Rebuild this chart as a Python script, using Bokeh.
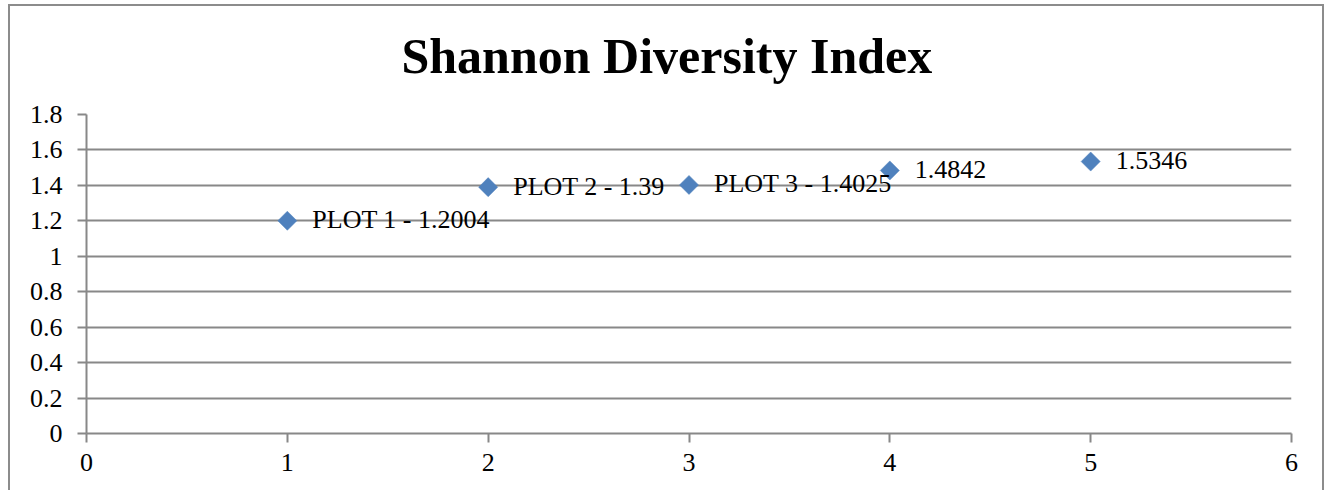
import numpy as np
from bokeh.plotting import figure
from bokeh.models import Range1d, FixedTicker, ColumnDataSource, Title
from bokeh.core.properties import value
from bokeh.embed import file_html
from bokeh.resources import INLINE

# ---- data ----
plots = [1, 2, 3, 4, 5]
shannon = [1.2004, 1.39, 1.4025, 1.4842, 1.5346]
point_labels = ["PLOT 1 - 1.2004", "PLOT 2 - 1.39", "PLOT 3 - 1.4025", "1.4842", "1.5346"]
x_ticks = [0, 1, 2, 3, 4, 5, 6]
x_tick_labels = ["0", "1", "2", "3", "4", "5", "6"]
y_ticks = [0, 0.2, 0.4, 0.6, 0.8, 1.0, 1.2, 1.4, 1.6, 1.8]
y_tick_labels = ["0", "0.2", "0.4", "0.6", "0.8", "1", "1.2", "1.4", "1.6", "1.8"]
title_text = "Shannon Diversity Index"

GRAY = "#888888"
SERIF = "Liberation Serif"

src = ColumnDataSource(dict(x=plots, y=shannon, label=point_labels))

p = figure(width=1316, height=486, output_backend="svg", toolbar_location=None,
           x_range=Range1d(0, 6), y_range=Range1d(0, 1.8),
           min_border_left=76, min_border_right=35, min_border_top=108, min_border_bottom=59)

p.styles = {"border-left": "2px solid #8c8c8c", "border-right": "2px solid #8c8c8c",
            "border-top": "2px solid #8c8c8c", "margin-left": "8px", "margin-top": "4px"}

# small blank spacer between the title and the plot area
spacer = Title(text=" ", text_font_size="6px", standoff=1, text_color="white")
p.add_layout(spacer, "above")

main_title = Title(text=title_text, align="left", offset=315, vertical_align="top",
                   standoff=40, text_font=SERIF, text_font_style="bold",
                   text_font_size="50px", text_color="black")
p.add_layout(main_title, "above")

p.outline_line_color = None
p.background_fill_color = "white"
p.border_fill_color = "white"

p.xgrid.visible = False
p.ygrid.ticker = FixedTicker(ticks=y_ticks)
p.ygrid.grid_line_color = GRAY
p.ygrid.grid_line_width = 2

for ax, ticks, labels in ((p.xaxis[0], x_ticks, x_tick_labels), (p.yaxis[0], y_ticks, y_tick_labels)):
    ax.ticker = FixedTicker(ticks=ticks)
    ax.major_label_overrides = {t: l for t, l in zip(ticks, labels)}
    ax.axis_line_color = GRAY
    ax.axis_line_width = 2
    ax.major_tick_line_color = GRAY
    ax.major_tick_line_width = 2
    ax.major_tick_in = 0
    ax.major_tick_out = 9
    ax.minor_tick_line_color = None
    ax.major_label_text_font = SERIF
    ax.major_label_text_font_size = "26px"
    ax.major_label_text_color = "black"

p.xaxis.major_label_standoff = 11
p.yaxis.major_label_standoff = 15

p.scatter("x", "y", source=src, marker="square", size=13.5, angle=np.pi / 4,
          fill_color="#4F81BD", line_color="#4F81BD", line_width=0.5)
p.text("x", "y", text="label", source=src, x_offset=25, y_offset=-1,
       text_baseline="middle", text_align="left",
       text_font=value(SERIF), text_font_size="26px", text_color="black")

open("out.html", "w").write(file_html(p, INLINE))
